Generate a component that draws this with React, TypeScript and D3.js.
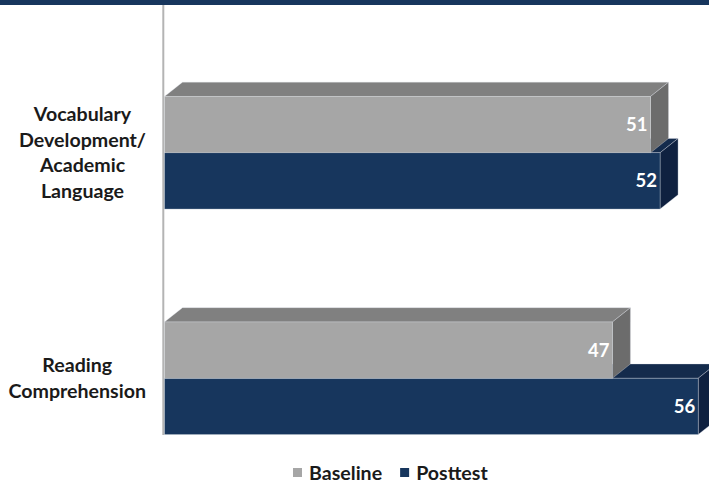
import React, { useEffect, useRef } from "react";
import * as d3 from "d3";

// Categories (top to bottom), each a list of label lines
const categories = ["Vocabulary Development/ Academic Language", "Reading Comprehension"];
const categoryLines = [
  ["Vocabulary", "Development/", "Academic", "Language"],
  ["Reading", "Comprehension"],
];
const seriesNames = ["Baseline", "Posttest"];
const baselineValues = [51, 47];
const posttestValues = [52, 56];

const W = 709;
const H = 483;

const COLORS = {
  Baseline: { front: "#a6a6a6", top: "#808080", side: "#6c6c6c" },
  Posttest: { front: "#17365d", top: "#142b4c", side: "#0f2140" },
};

const FONT = "Lato, 'Open Sans', sans-serif";
const LABEL_SIZE = 19.6;

export default function App() {
  const ref = useRef<SVGSVGElement | null>(null);

  useEffect(() => {
    const svg = d3.select(ref.current);
    svg.selectAll("*").remove();

    // header band
    svg.append("rect").attr("x", 0).attr("y", 0).attr("width", W).attr("height", 5).attr("fill", "#17365d");

    const x = d3.scaleLinear().domain([0, 60]).range([164.5, 164.5 + 60 * 9.53]);
    const y = d3.scaleBand<string>().domain(categories).range([40, 491]).paddingInner(0).paddingOuter(0);
    const barH = 56.3;
    const dx = 18;
    const dy = 14.3;

    // vertical axis line
    svg
      .append("line")
      .attr("x1", 163.3)
      .attr("x2", 163.3)
      .attr("y1", 5)
      .attr("y2", 435)
      .attr("stroke", "#b4b4b4")
      .attr("stroke-width", 2);

    const values: Record<string, number[]> = { Baseline: baselineValues, Posttest: posttestValues };

    const drawBar = (g: any, v: number, y0: number, c: { front: string; top: string; side: string }) => {
      const x0 = x(0);
      const x1 = x(v);
      const y1 = y0 + barH;
      const edge = "rgba(220,225,232,0.55)";
      // top face
      g.append("path")
        .attr("d", `M${x0},${y0} L${x0 + dx},${y0 - dy} L${x1 + dx},${y0 - dy} L${x1},${y0} Z`)
        .attr("fill", c.top)
        .attr("stroke", edge)
        .attr("stroke-width", 0.6);
      // side face
      g.append("path")
        .attr("d", `M${x1},${y0} L${x1 + dx},${y0 - dy} L${x1 + dx},${y1 - dy} L${x1},${y1} Z`)
        .attr("fill", c.side)
        .attr("stroke", edge)
        .attr("stroke-width", 0.6);
      // front face
      g.append("rect")
        .attr("x", x0)
        .attr("y", y0)
        .attr("width", x1 - x0)
        .attr("height", barH)
        .attr("fill", c.front)
        .attr("stroke", edge)
        .attr("stroke-width", 0.6);
      g.append("text")
        .attr("x", x1 - 3)
        .attr("y", y0 + barH / 2)
        .attr("dy", "0.35em")
        .attr("text-anchor", "end")
        .attr("font-family", FONT)
        .attr("font-weight", 700)
        .attr("font-size", 18.5)
        .attr("fill", "#ffffff")
        .text(String(v));
    };

    categories.forEach((cat, i) => {
      const center = (y(cat) as number) + y.bandwidth() / 2;
      const g = svg.append("g");
      // posttest drawn first so the baseline bar sits over its top face
      drawBar(g, values.Posttest[i], center, COLORS.Posttest);
      drawBar(g, values.Baseline[i], center - barH, COLORS.Baseline);

      // category label: lines centred within the block, block right-aligned to the axis
      const lines = categoryLines[i];
      const lh = 25.5;
      const lg = svg.append("g");
      const texts = lines.map((ln, k) =>
        lg
          .append("text")
          .attr("y", center + (k - (lines.length - 1) / 2) * lh)
          .attr("dy", "0.35em")
          .attr("text-anchor", "middle")
          .attr("font-family", FONT)
          .attr("font-weight", 700)
          .attr("font-size", LABEL_SIZE)
          .attr("fill", "#1a1a1a")
          .text(ln)
      );
      const maxW = d3.max(texts, (t) => (t.node() as SVGTextElement).getComputedTextLength()) || 0;
      const right = 146;
      texts.forEach((t) => t.attr("x", right - maxW / 2));
    });

    // legend
    const legend = svg.append("g");
    let lx = 293;
    seriesNames.forEach((name) => {
      legend
        .append("rect")
        .attr("x", lx)
        .attr("y", 468)
        .attr("width", 9)
        .attr("height", 9)
        .attr("fill", COLORS[name as "Baseline" | "Posttest"].front);
      const t = legend
        .append("text")
        .attr("x", lx + 16)
        .attr("y", 473)
        .attr("dy", "0.35em")
        .attr("font-family", FONT)
        .attr("font-weight", 700)
        .attr("font-size", LABEL_SIZE)
        .attr("fill", "#1a1a1a")
        .text(name);
      lx += 16 + (t.node() as SVGTextElement).getComputedTextLength() + 18;
    });
  }, []);

  return (
    <svg
      ref={ref}
      width={W}
      height={H}
      style={{ position: "absolute", left: 0, top: 0, background: "#ffffff" }}
    />
  );
}
